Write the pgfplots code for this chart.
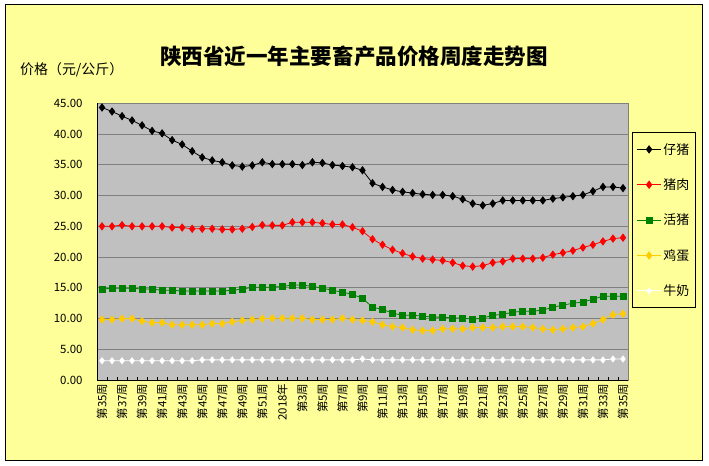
\documentclass[border=0pt]{standalone}
\usepackage{fontspec}
\setmainfont{Noto Sans CJK SC}
\usepackage{pgfplots}
\pgfplotsset{compat=1.18}
\usepackage{pgfplotstable}
\definecolor{bgyellow}{HTML}{FFFF99}
\definecolor{plotgray}{HTML}{C0C0C0}
\definecolor{gridgray}{HTML}{808080}
\definecolor{eggyellow}{HTML}{FFCC00}
\definecolor{pgreen}{HTML}{008000}
\pgfplotstableread{
i a b c d e
0 44.3 25.0 14.8 9.85 3.16
1 43.65 25.0 14.95 9.85 3.16
2 42.9 25.2 14.95 10.0 3.16
3 42.2 25.0 14.95 10.0 3.16
4 41.4 25.0 14.8 9.6 3.16
5 40.5 25.0 14.8 9.35 3.16
6 40.1 25.0 14.6 9.35 3.16
7 39.0 24.8 14.6 9.0 3.16
8 38.3 24.8 14.5 9.0 3.16
9 37.2 24.6 14.5 9.0 3.16
10 36.2 24.6 14.5 9.0 3.3
11 35.7 24.6 14.5 9.2 3.3
12 35.4 24.5 14.5 9.2 3.3
13 34.9 24.5 14.6 9.5 3.3
14 34.7 24.6 14.8 9.7 3.3
15 34.9 24.9 15.1 9.85 3.3
16 35.4 25.2 15.1 10.0 3.3
17 35.1 25.15 15.1 10.05 3.3
18 35.1 25.15 15.25 10.05 3.3
19 35.1 25.65 15.45 10.05 3.3
20 34.95 25.65 15.45 10.05 3.3
21 35.4 25.65 15.25 9.85 3.3
22 35.3 25.5 14.95 9.85 3.3
23 34.95 25.3 14.6 9.85 3.3
24 34.8 25.3 14.3 10.05 3.3
25 34.6 24.85 13.95 9.85 3.3
26 34.1 24.2 13.3 9.7 3.45
27 32.0 22.9 11.85 9.5 3.3
28 31.4 22.0 11.5 9.0 3.3
29 30.9 21.2 10.9 8.7 3.3
30 30.6 20.6 10.55 8.55 3.3
31 30.4 20.1 10.55 8.2 3.3
32 30.2 19.75 10.4 8.05 3.3
33 30.1 19.6 10.25 8.05 3.3
34 30.1 19.45 10.25 8.35 3.3
35 29.9 19.1 10.1 8.35 3.3
36 29.4 18.6 10.1 8.35 3.3
37 28.7 18.45 9.9 8.55 3.3
38 28.4 18.6 10.1 8.55 3.3
39 28.7 19.1 10.55 8.55 3.3
40 29.2 19.3 10.7 8.7 3.3
41 29.2 19.75 11.05 8.7 3.3
42 29.2 19.75 11.2 8.7 3.3
43 29.2 19.75 11.2 8.55 3.3
44 29.2 19.9 11.4 8.35 3.3
45 29.5 20.4 11.85 8.2 3.3
46 29.7 20.7 12.2 8.35 3.3
47 29.9 21.05 12.5 8.55 3.3
48 30.1 21.55 12.7 8.7 3.3
49 30.7 22.0 13.15 9.2 3.3
50 31.4 22.55 13.65 9.85 3.3
51 31.4 23.0 13.65 10.65 3.45
52 31.2 23.15 13.65 10.8 3.45
}\datatable
\begin{document}
\begin{tikzpicture}
\useasboundingbox (0,0) rectangle (709bp,466bp);
\fill[white] (0,0) rectangle (709bp,466bp);
\draw[black, line width=1bp, fill=bgyellow] (5bp,5.3bp) rectangle (702.5bp,461bp);
\node[font=\fontsize{21.6}{25}\selectfont\bfseries] at (354bp,410bp) {陕西省近一年主要畜产品价格周度走势图};
\node[anchor=west,font=\fontsize{14}{16}\selectfont, inner sep=0pt] at (20bp,396bp) {价格（元/公斤）};
\begin{axis}[
  at={(97bp,85.8bp)}, anchor=south west,
  scale only axis, width=531bp, height=277bp,
  xmin=-0.5, xmax=52.5, ymin=0, ymax=45,
  axis background/.style={fill=plotgray},
  axis line style={draw=gridgray, line width=0.8bp},
  ymajorgrids, major grid style={draw=gridgray, line width=0.9bp},
  ytick={0,5,...,45},
  yticklabels={0.00,5.00,10.00,15.00,20.00,25.00,30.00,35.00,40.00,45.00},
  yticklabel style={font=\fontsize{11.5}{13}\selectfont, xshift=-11bp},
  xtick={0,2,...,52},
  xticklabels={第35周,第37周,第39周,第41周,第43周,第45周,第47周,第49周,第51周,2018年,第3周,第5周,第7周,第9周,第11周,第13周,第15周,第17周,第19周,第21周,第23周,第25周,第27周,第29周,第31周,第33周,第35周},
  xticklabel style={font=\fontsize{11.5}{13}\selectfont, rotate=90, anchor=east, xshift=0bp},
  minor xtick={-0.5,0.5,...,52.5},
  tick align=inside, major tick length=0pt, minor tick length=3.5bp,
  minor tick style={black, line width=0.8bp},
  xtick pos=bottom, ytick pos=left,
  /pgf/number format/assume math mode=true,
  legend style={at={(1.0081,0.8949)}, anchor=north west, draw=black, line width=0.8bp, fill=bgyellow,
    font=\fontsize{13}{15}\selectfont, row sep=19bp, inner xsep=4bp, inner ysep=8.5bp},
  legend cell align=left,
  legend image code/.code={\draw[mark repeat=2,mark phase=2] plot coordinates {(0bp,0bp) (12bp,0bp) (24bp,0bp)};},
  every axis plot/.append style={line width=0.8bp},
]
\addplot[black, mark=diamond*, mark size=3.6, mark options={solid, fill=black}] table[x=i,y=a] {\datatable};
\addlegendentry{仔猪}
\addplot[red, mark=diamond*, mark size=3.6, mark options={solid, fill=red}] table[x=i,y=b] {\datatable};
\addlegendentry{猪肉}
\addplot[pgreen, mark=square*, mark size=3, mark options={solid, fill=pgreen}] table[x=i,y=c] {\datatable};
\addlegendentry{活猪}
\addplot[eggyellow, mark=diamond*, mark size=3.6, mark options={solid, fill=eggyellow}] table[x=i,y=d] {\datatable};
\addlegendentry{鸡蛋}
\addplot[white, mark=diamond*, mark size=3, mark options={solid, fill=white}] table[x=i,y=e] {\datatable};
\addlegendentry{牛奶}
\draw[black, line width=1.2bp] (rel axis cs:0,0) -- (rel axis cs:1,0);
\draw[black, line width=1.2bp] (rel axis cs:0,0) -- (rel axis cs:0,1);
\end{axis}
\end{tikzpicture}
\end{document}
